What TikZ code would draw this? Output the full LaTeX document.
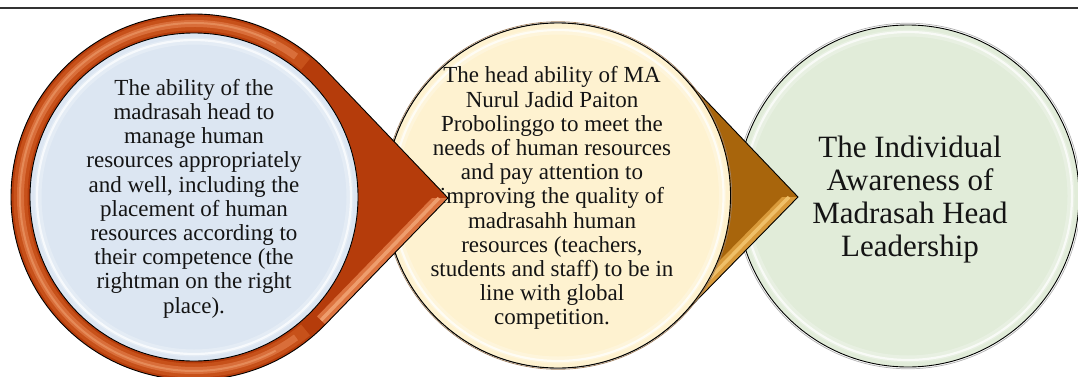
\documentclass[tikz,border=0pt]{standalone}
\usepackage{fontspec}
\setmainfont{Liberation Serif}
\usetikzlibrary{calc}

\definecolor{ringred}{HTML}{B53C0B}
\definecolor{ringmid}{HTML}{C9541C}
\definecolor{ringlight}{HTML}{DD7440}
\definecolor{ringshine}{HTML}{F0A272}
\definecolor{dropbrown}{HTML}{A8650C}
\definecolor{brownlight}{HTML}{D99A3A}
\definecolor{brownshine}{HTML}{F2C46E}
\definecolor{bluefill}{HTML}{DCE6F2}
\definecolor{creamfill}{HTML}{FEF2D0}
\definecolor{greenfill}{HTML}{E1ECD9}

% angles of the two tangent points of a drop shape: circle (cx,cy,R) pointing to tip (tx,ty)
\newcommand\setdrop[5]{%
  \pgfmathsetmacro\dropD{veclen(#4-#1,#5-#2)}%
  \pgfmathsetmacro\dropA{atan2(#5-#2,#4-#1)}%
  \pgfmathsetmacro\dropT{acos(#3/\dropD)}%
  \pgfmathsetmacro\dropU{\dropA+\dropT}%
  \pgfmathsetmacro\dropL{\dropA-\dropT}%
  \pgfmathsetmacro\dropE{\dropU-360}%
}
% outline of the drop: upper tangent, tip, lower tangent, back arc
\newcommand\droppath[3]{($(#1)+(\dropU:#3)$) -- (#2) -- ($(#1)+(\dropL:#3)$)
  arc[start angle=\dropL, end angle=\dropE, radius=#3] -- cycle}

\begin{document}
\begin{tikzpicture}[x=1pt,y=1pt,
  outl/.style={draw=black, line width=0.9pt},
  txt/.style={align=center, inner sep=0pt, text=black!92},
  smalltxt/.style={txt, font=\fontsize{23}{24.2}\selectfont},
  bigtxt/.style={txt, font=\fontsize{31}{33.3}\selectfont},
]
\useasboundingbox (0,0) rectangle (1078,376);

\coordinate (c1) at (194,179);
\coordinate (t1) at (448,178);
\coordinate (c2) at (558,180.5);
\coordinate (t2) at (798,179);
\coordinate (c3) at (908,180);
\coordinate (rulel) at (0,368);
\coordinate (ruler) at (1078,368);

% ---- third circle (green)
\draw[gray!60, line width=0.7pt] (c3) circle[radius=172.8];
\fill[greenfill] (c3) circle[radius=171];
\draw[white, line width=7pt, opacity=0.25] (c3) circle[radius=163];
\draw[white, line width=2.2pt, opacity=0.7] (c3) circle[radius=164];
\draw[outl] (c3) circle[radius=171];
\node[bigtxt] (n3) at (910,176.5)
  {The Individual\\Awareness of\\Madrasah Head\\Leadership};

% ---- brown drop behind the second circle
\setdrop{558}{180.5}{172.5}{798}{179}
\coordinate (l2) at ($(c2)+(\dropL:172.5)$);
\fill[dropbrown] \droppath{c2}{t2}{172.5};
\fill[brownlight] (t2) -- ($(t2)+(-16,0)$) -- ($(l2)!11.5pt!90:(t2)$) -- (l2) -- cycle;
\draw[brownshine, line width=3.5pt, opacity=0.9]
  ($(t2)+(-9,0)$) -- ($(l2)!6pt!90:(t2)$);
\draw[outl] \droppath{c2}{t2}{172.5};

% ---- second circle (cream)
\draw[brown!50!gray, line width=0.7pt] (c2) circle[radius=173.8];
\fill[creamfill] (c2) circle[radius=172.5];
\draw[white, line width=7pt, opacity=0.25] (c2) circle[radius=164.5];
\draw[white, line width=2.2pt, opacity=0.7] (c2) circle[radius=165.5];
\draw[outl] (c2) circle[radius=172.5];
\node[smalltxt] (n2) at (552,177.8)
  {The head ability of MA\\Nurul Jadid Paiton\\Probolinggo to meet the\\needs of human resources\\and pay attention to\\improving the quality of\\madrasahh human\\resources (teachers,\\students and staff) to be in\\line with global\\competition.};

% ---- red ring drop around the first circle
\setdrop{194}{179}{183}{448}{178}
\coordinate (l1) at ($(c1)+(\dropL:183)$);
\fill[ringred] \droppath{c1}{t1}{183};
\draw[ringmid, line width=14pt, opacity=0.9]
  ($(c1)+(50:173.5)$) arc[start angle=50, end angle=310, radius=173.5];
\draw[ringlight, line width=7pt, opacity=0.85]
  ($(c1)+(54:173.5)$) arc[start angle=54, end angle=306, radius=173.5];
\draw[ringshine, line width=2pt, opacity=0.55]
  ($(c1)+(62:174)$) arc[start angle=62, end angle=298, radius=174];
\fill[ringlight] (t1) -- ($(t1)+(-16,0)$) -- ($(l1)!11.5pt!90:(t1)$) -- (l1) -- cycle;
\draw[ringshine, line width=3.5pt, opacity=0.9]
  ($(t1)+(-9,0)$) -- ($(l1)!6pt!90:(t1)$);
\draw[outl] \droppath{c1}{t1}{183};

% ---- first circle (blue)
\fill[bluefill] (c1) circle[radius=164];
\draw[white, line width=7pt, opacity=0.25] (c1) circle[radius=156];
\draw[white, line width=2.2pt, opacity=0.7] (c1) circle[radius=157];
\draw[outl] (c1) circle[radius=164];
\node[smalltxt] (n1) at (194,177.5)
  {The ability of the\\madrasah head to\\manage human\\resources appropriately\\and well, including the\\placement of human\\resources according to\\their competence (the\\rightman on the right\\place).};

% ---- rule across the top
\draw[black!80, line width=1.3pt] (rulel) -- (ruler);
\end{tikzpicture}
\end{document}
